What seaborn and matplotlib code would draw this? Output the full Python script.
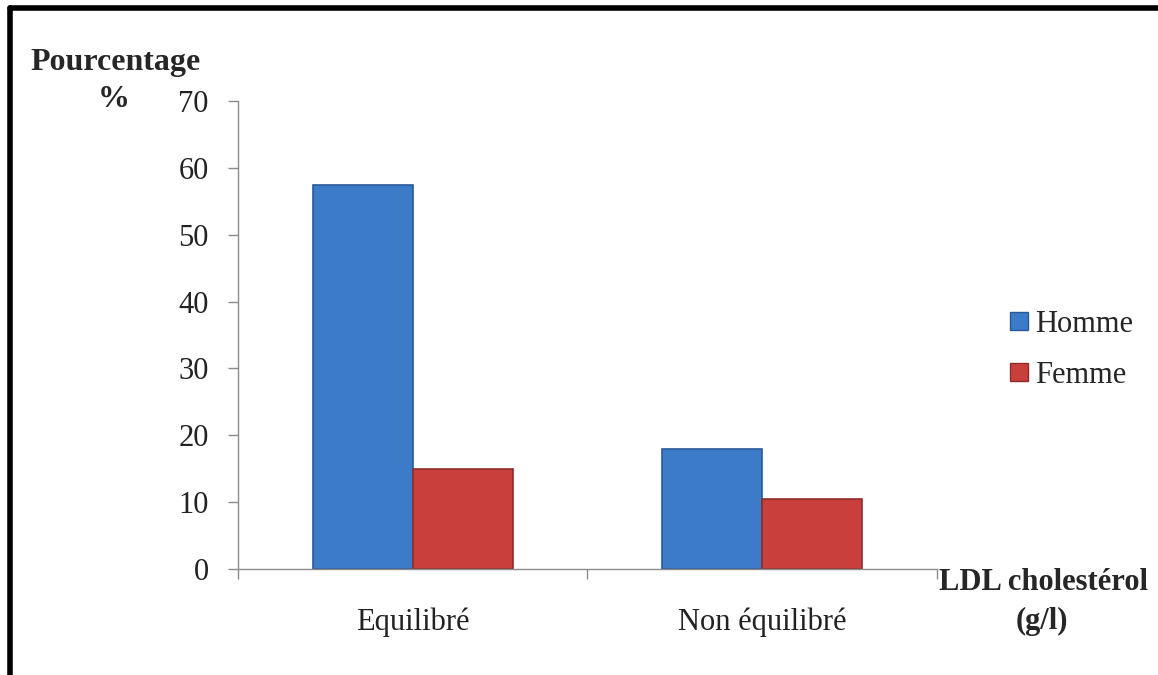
import matplotlib
matplotlib.use("Agg")
import matplotlib.pyplot as plt
import matplotlib.lines as mlines
import pandas as pd
import seaborn as sns

categories = ["Equilibré", "Non équilibré"]
groups = ["Homme", "Femme"]
homme = [57.4, 17.9]
femme = [14.9, 10.5]
colors = {"Homme": "#3c7bc8", "Femme": "#c83f3c"}
edges = {"Homme": "#2a5a96", "Femme": "#8e2c2a"}

df = pd.DataFrame({
    "categorie": categories * 2,
    "sexe": [groups[0]] * 2 + [groups[1]] * 2,
    "valeur": homme + femme,
})

sns.set_style("white")
plt.rcParams["font.family"] = ["Liberation Serif", "DejaVu Serif"]

fig = plt.figure(figsize=(11.58, 6.75), dpi=100)
ax = fig.add_axes([0.2055, 0.157, 0.6036, 0.6933])

sns.barplot(data=df, x="categorie", y="valeur", hue="sexe", palette=colors,
            width=0.573, gap=0, saturation=1, ax=ax, legend=False)
for patch, s in zip(ax.patches, ["Homme", "Homme", "Femme", "Femme"]):
    patch.set_edgecolor(edges[s])
    patch.set_linewidth(1.2)

ax.set_xlim(-0.5, 1.5)
ax.set_ylim(0, 70)
ax.set_yticks(range(0, 71, 10))
ax.set_xlabel("")
ax.set_ylabel("")
for side in ["top", "right"]:
    ax.spines[side].set_visible(False)
for side in ["left", "bottom"]:
    ax.spines[side].set_color("#8c8c8c")
    ax.spines[side].set_linewidth(1)

ax.tick_params(axis="y", direction="out", length=7, width=1, color="#8c8c8c",
               pad=14, labelsize=22, labelcolor="#222222", left=True)
ax.tick_params(axis="x", which="major", length=0, pad=28, labelsize=22,
               labelcolor="#222222")
ax.set_xticks([-0.5, 0.5, 1.5], minor=True)
ax.tick_params(axis="x", which="minor", direction="out", length=7, width=1,
               color="#8c8c8c", bottom=True)

# legend
handles = [mlines.Line2D([], [], marker="s", linestyle="", markersize=13,
                         markerfacecolor=colors[g], markeredgecolor=edges[g],
                         label=g) for g in groups]
fig.legend(handles=handles, loc="center left", bbox_to_anchor=(0.856, 0.482),
           frameon=False, fontsize=22, handletextpad=0.12, labelspacing=0.72,
           handlelength=0.8, borderpad=0)

# axis titles
fig.text(0.100, 0.907, "Pourcentage", fontsize=23, fontweight="bold",
         ha="center", va="center")
fig.text(0.098, 0.852, "%", fontsize=23, fontweight="bold",
         ha="center", va="center")
fig.text(0.9015, 0.137, "LDL cholestérol", fontsize=22, fontweight="bold",
         ha="center", va="center")
fig.text(0.900, 0.079, "(g/l)", fontsize=22, fontweight="bold",
         ha="center", va="center")

# frame lines on the left and top
fig.add_artist(mlines.Line2D([0.0085, 0.0085], [0, 0.988], color="black", lw=4,
                             transform=fig.transFigure))
fig.add_artist(mlines.Line2D([0.0085, 1], [0.988, 0.988], color="black", lw=4,
                             transform=fig.transFigure))

fig.savefig("out.png", dpi=100, facecolor="white")
